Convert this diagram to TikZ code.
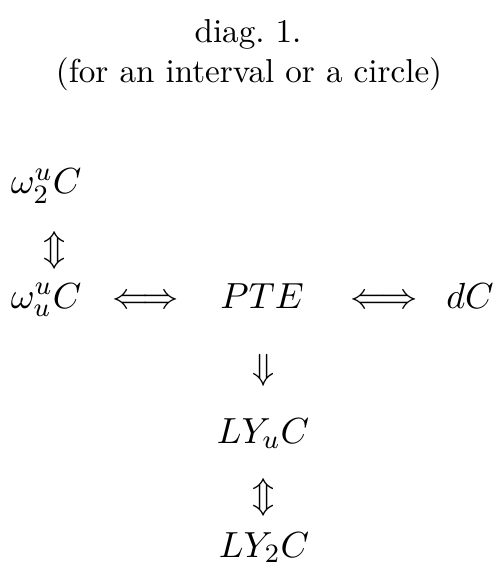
\documentclass[tikz,border=0pt]{standalone}
\begin{document}
\begin{tikzpicture}[x=0.3016pt,y=-0.3016pt,
  lbl/.style={inner sep=0pt,outer sep=0pt,anchor=base,font=\fontsize{10.8}{13}\selectfont},
  arr/.style={inner sep=0pt,outer sep=0pt,font=\fontsize{10.8}{13}\selectfont}]
\useasboundingbox (0,0) rectangle (496,571);
\node[inner sep=0pt,anchor=base] (t1) at (248,43) {diag.~1.};
\node[inner sep=0pt,anchor=base] (t2) at (249,83) {(for an interval or a circle)};
\node[lbl,anchor=base west] (w2) at (11,194) {$\omega_2^uC$};
\node[arr] (a1) at (55,250) {$\Updownarrow$};
\node[lbl,anchor=base west] (wu) at (11,308) {$\omega_u^uC$};
\node[lbl] (a2) at (145.5,308) {$\Longleftrightarrow$};
\node[lbl] (pte) at (262,308) {$PTE$};
\node[lbl] (a3) at (384,308) {$\Longleftrightarrow$};
\node[lbl] (dc) at (470,308) {$dC$};
\node[arr] (a4) at (264,370) {$\Downarrow$};
\node[lbl] (lyu) at (263,443) {$LY_uC$};
\node[arr] (a5) at (264,497) {$\Updownarrow$};
\node[lbl] (ly2) at (264,557) {$LY_2C$};
\end{tikzpicture}
\end{document}
